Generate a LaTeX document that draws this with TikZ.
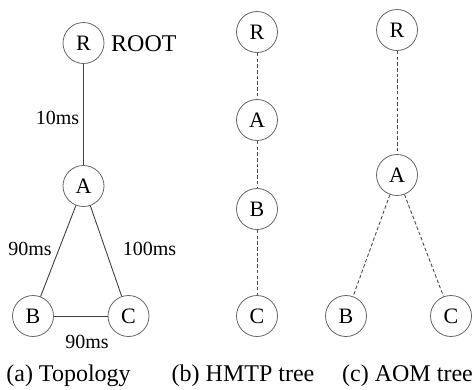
\documentclass[tikz,border=0pt]{standalone}
\usepackage{fontspec}
\setmainfont{Liberation Serif}
\newfontfamily\timesf{Liberation Serif}
\begin{document}
\begin{tikzpicture}[x=1pt, y=-1pt,
  peer/.style={circle, draw=black!60, line width=0.8pt, minimum size=41pt, inner sep=0pt, font=\timesf\fontsize{22}{24}\selectfont},
  link/.style={draw=black!75, line width=0.9pt},
  tlink/.style={draw=black!70, line width=0.9pt, dash pattern=on 3.5pt off 2.2pt},
  lat/.style={font=\timesf\fontsize{20}{22}\selectfont, inner sep=0pt},
  captxt/.style={font=\timesf\fontsize{24}{26}\selectfont, inner sep=0pt}]
\useasboundingbox (0,0) rectangle (473,389);
% (a) topology
\node[peer] (topR) at (83.5,43){R};
\node[peer] (topA) at (83.5,186){A};
\node[peer] (topB) at (33,316){B};
\node[peer] (topC) at (128.5,316){C};
\node[captxt, anchor=west] (root) at (111,44){ROOT};
\draw[link](topR) -- (topA);
\draw[link](topA) -- (topB);
\draw[link](topA) -- (topC);
\draw[link](topB) -- (topC);
\node[lat] (latRA) at (57.5,118){10ms};
\node[lat] (latAB) at (30,249){90ms};
\node[lat] (latAC) at (149.5,249){100ms};
\node[lat] (latBC) at (87,342){90ms};
% (b) HMTP tree
\node[peer] (hmR) at (257,32){R};
\node[peer] (hmA) at (257,120){A};
\node[peer] (hmB) at (257,209){B};
\node[peer] (hmC) at (257,316){C};
\draw[tlink](hmR) -- (hmA);
\draw[tlink](hmA) -- (hmB);
\draw[tlink](hmB) -- (hmC);
% (c) AOM tree
\node[peer] (aoR) at (397,30){R};
\node[peer] (aoA) at (397,175){A};
\node[peer] (aoB) at (346,316){B};
\node[peer] (aoC) at (451,316){C};
\draw[tlink](aoR) -- (aoA);
\draw[tlink](aoA) -- (aoB);
\draw[tlink](aoA) -- (aoC);
% captions
\node[captxt] (capA) at (68.5,376){(a) Topology};
\node[captxt] (capB) at (243,376){(b) HMTP tree};
\node[captxt] (capC) at (407.5,376){(c) AOM tree};
\end{tikzpicture}
\end{document}
